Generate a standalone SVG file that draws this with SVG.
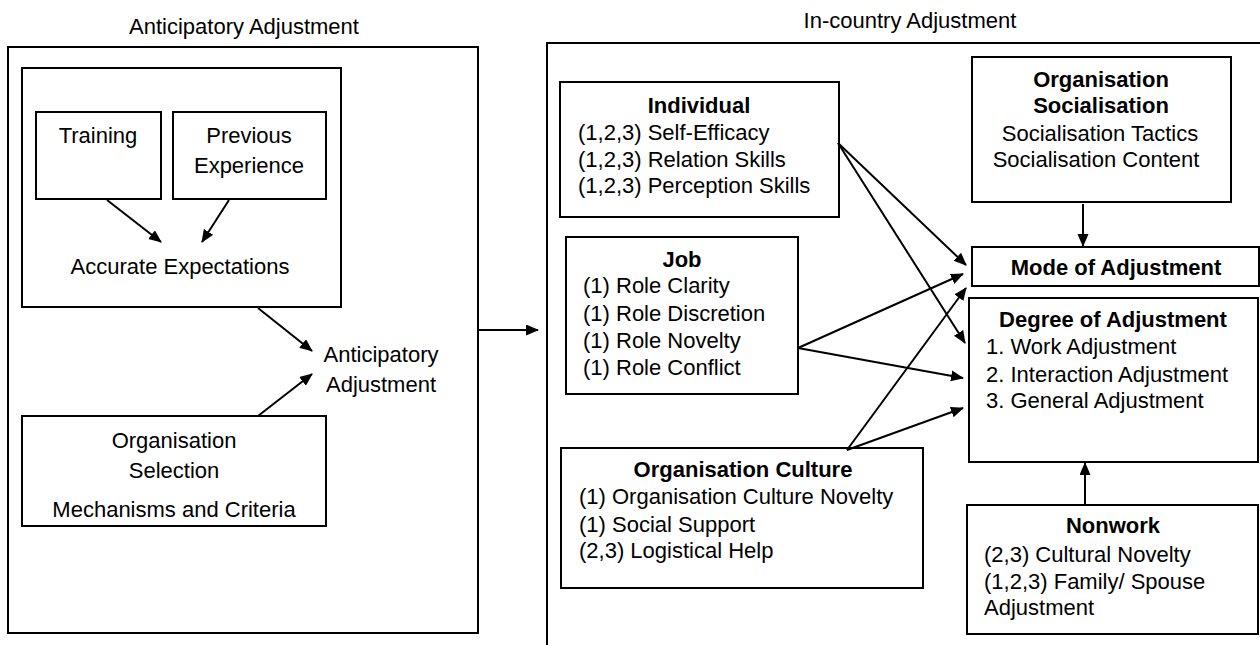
<svg xmlns="http://www.w3.org/2000/svg" width="1260" height="645" viewBox="0 0 1260 645">
  <style>
    text { font-family: "Liberation Sans", Arial, sans-serif; font-size: 22px; fill: #000; }
    .c { text-anchor: middle; }
    .b { font-weight: bold; }
    .box { fill: none; stroke: #000; stroke-width: 2; }
    .edge { fill: none; stroke: #000; stroke-width: 2; marker-end: url(#arrow); }
  </style>
  <defs>
    <marker id="arrow" markerUnits="userSpaceOnUse" markerWidth="14" markerHeight="12" refX="12" refY="5.5" orient="auto">
      <path d="M0,0 L13,5.5 L0,11 z" fill="#000"/>
    </marker>
  </defs>
  <rect width="1260" height="645" fill="#fff"/>

  <!-- Anticipatory adjustment panel -->
  <g id="anticipatory-panel">
    <text class="c" x="244" y="34">Anticipatory Adjustment</text>
    <rect class="box" x="8" y="47" width="470" height="586"/>
  </g>
  <g id="expectations-group">
    <rect class="box" x="22" y="68" width="319" height="239"/>
    <text class="c" x="180" y="274">Accurate Expectations</text>
  </g>
  <g id="training">
    <rect class="box" x="36" y="112" width="125" height="87"/>
    <text class="c" x="98" y="143">Training</text>
  </g>
  <g id="previous-experience">
    <rect class="box" x="173" y="112" width="153" height="87"/>
    <text class="c" x="249" y="143">Previous</text>
    <text class="c" x="249" y="173">Experience</text>
  </g>
  <g id="anticipatory-result">
    <text class="c" x="381" y="362">Anticipatory</text>
    <text class="c" x="381" y="392">Adjustment</text>
  </g>
  <g id="organisation-selection">
    <rect class="box" x="22" y="416" width="304" height="110"/>
    <text class="c" x="174" y="448">Organisation</text>
    <text class="c" x="174" y="478">Selection</text>
    <text class="c" x="174" y="517">Mechanisms and Criteria</text>
  </g>

  <!-- In-country adjustment panel -->
  <g id="in-country-panel">
    <text class="c" x="910" y="28">In-country Adjustment</text>
    <rect class="box" x="547" y="43" width="800" height="700"/>
  </g>
  <g id="individual">
    <rect class="box" x="560" y="82" width="279" height="135"/>
    <text class="c b" x="699" y="113">Individual</text>
    <text x="578" y="140">(1,2,3) Self-Efficacy</text>
    <text x="578" y="167">(1,2,3) Relation Skills</text>
    <text x="578" y="193">(1,2,3) Perception Skills</text>
  </g>
  <g id="job">
    <rect class="box" x="566" y="237" width="232" height="157"/>
    <text class="c b" x="682" y="267">Job</text>
    <text x="583" y="293">(1) Role Clarity</text>
    <text x="583" y="321">(1) Role Discretion</text>
    <text x="583" y="348">(1) Role Novelty</text>
    <text x="583" y="375">(1) Role Conflict</text>
  </g>
  <g id="organisation-culture">
    <rect class="box" x="561" y="448" width="362" height="140"/>
    <text class="c b" x="743" y="477">Organisation Culture</text>
    <text x="579" y="504">(1) Organisation Culture Novelty</text>
    <text x="579" y="532">(1) Social Support</text>
    <text x="579" y="558">(2,3) Logistical Help</text>
  </g>
  <g id="organisation-socialisation">
    <rect class="box" x="972" y="57" width="259" height="145"/>
    <text class="c b" x="1101" y="87">Organisation</text>
    <text class="c b" x="1101" y="113">Socialisation</text>
    <text class="c" x="1100" y="141">Socialisation Tactics</text>
    <text class="c" x="1096" y="167">Socialisation Content</text>
  </g>
  <g id="mode-of-adjustment">
    <rect class="box" x="972" y="247" width="287" height="39"/>
    <text class="c b" x="1116" y="275">Mode of Adjustment</text>
  </g>
  <g id="degree-of-adjustment">
    <rect class="box" x="969" y="298" width="289" height="164"/>
    <text class="c b" x="1113" y="327">Degree of Adjustment</text>
    <text x="986" y="354">1. Work Adjustment</text>
    <text x="986" y="382">2. Interaction Adjustment</text>
    <text x="986" y="408">3. General Adjustment</text>
  </g>
  <g id="nonwork">
    <rect class="box" x="967" y="505" width="291" height="129"/>
    <text class="c b" x="1113" y="533">Nonwork</text>
    <text x="984" y="562">(2,3) Cultural Novelty</text>
    <text x="984" y="589">(1,2,3) Family/ Spouse</text>
    <text x="984" y="615">Adjustment</text>
  </g>

  <!-- Connectors -->
  <g id="connectors">
    <line class="edge" x1="107" y1="200" x2="161" y2="242"/>
    <line class="edge" x1="229" y1="200" x2="202" y2="242"/>
    <line class="edge" x1="258" y1="308" x2="312" y2="351"/>
    <line class="edge" x1="258" y1="416" x2="312" y2="374"/>
    <line class="edge" x1="478" y1="330" x2="538" y2="330"/>
    <line class="edge" x1="838" y1="143" x2="966" y2="265"/>
    <line class="edge" x1="838" y1="143" x2="965" y2="343"/>
    <line class="edge" x1="798" y1="348" x2="963" y2="274"/>
    <line class="edge" x1="798" y1="348" x2="963" y2="378"/>
    <line class="edge" x1="847" y1="450" x2="966" y2="288"/>
    <line class="edge" x1="847" y1="450" x2="963" y2="408"/>
    <line class="edge" x1="1083" y1="204" x2="1083" y2="246"/>
    <line class="edge" x1="1085" y1="505" x2="1085" y2="463"/>
  </g>
</svg>
